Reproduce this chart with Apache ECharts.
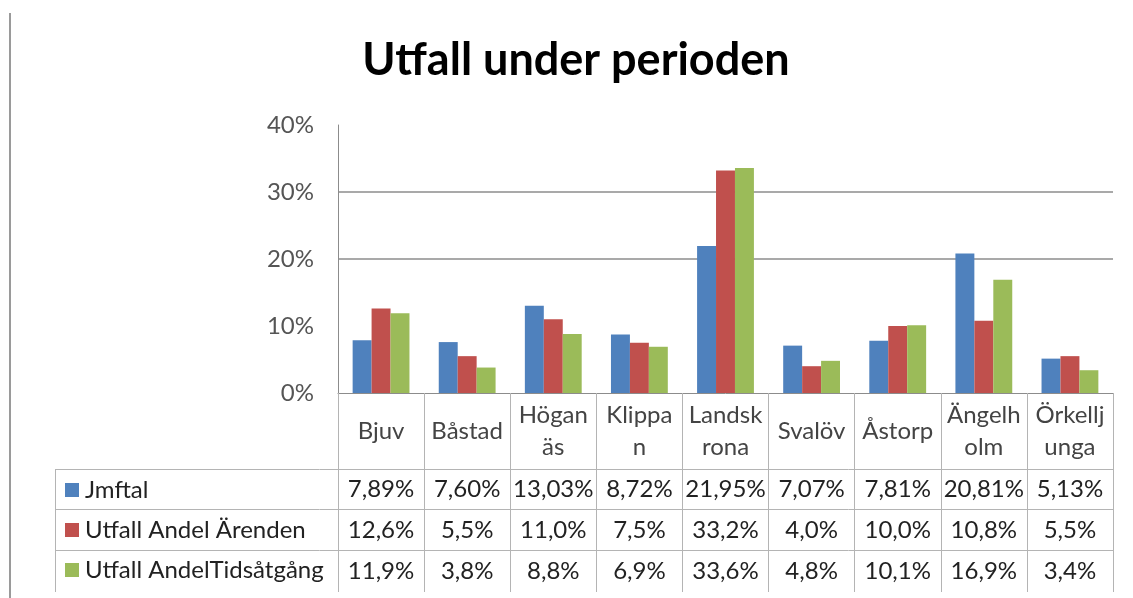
<!DOCTYPE html>
<html lang="sv">
<head>
    <meta charset="UTF-8">
    <title>Utfall under perioden</title>
    <script src="https://cdn.jsdelivr.net/npm/echarts@6/dist/echarts.min.js"></script>
    <style>
        html, body { margin: 0; padding: 0; background: #fff; }
        #main { width: 1133px; height: 598px; }
    </style>
</head>
<body>
<div id="main"></div>
<script>
    // kommuner (radbrytning som i Excel-tabellen)
    var kommuner = ['Bjuv', 'Båstad', 'Högan\näs', 'Klippa\nn', 'Landsk\nrona', 'Svalöv', 'Åstorp', 'Ängelh\nolm', 'Örkellj\nunga'];
    var serieNamn = ['Jmftal', 'Utfall Andel Ärenden', 'Utfall AndelTidsåtgång'];
    // värden i procent
    var jmftal = [7.89, 7.60, 13.03, 8.72, 21.95, 7.07, 7.81, 20.81, 5.13];
    var andelArenden = [12.6, 5.5, 11.0, 7.5, 33.2, 4.0, 10.0, 10.8, 5.5];
    var andelTid = [11.9, 3.8, 8.8, 6.9, 33.6, 4.8, 10.1, 16.9, 3.4];
    var decimaler = [2, 1, 1];
    var yTicks = [0, 10, 20, 30, 40];

    var farger = ['#4F81BD', '#C0504D', '#9BBB59'];
    var font = 'Lato, "Noto Sans", sans-serif';
    var serier = [jmftal, andelArenden, andelTid];

    function fmt(v, d) {
        return v.toFixed(d).replace('.', ',') + '%';
    }

    // tabellens rader = extra x-axlar under diagrammet
    var radMitt = [96, 137, 178];
    var xAxes = [{
        type: 'category',
        data: kommuner,
        axisLine: { lineStyle: { color: '#8c8c8c', width: 1 } },
        axisTick: { show: true, length: 199, alignWithLabel: false, lineStyle: { color: '#b4b4b4' } },
        axisLabel: {
            margin: 38, verticalAlign: 'middle', lineHeight: 32,
            fontFamily: font, fontSize: 24, color: '#444', interval: 0
        }
    }];
    for (var i = 0; i < serier.length; i++) {
        xAxes.push({
            type: 'category',
            position: 'bottom',
            data: serier[i].map(function (v, k) { return fmt(v, decimaler[this]); }, i),
            axisLine: { show: false, onZero: false },
            axisTick: { show: false },
            axisLabel: {
                margin: radMitt[i], verticalAlign: 'middle', interval: 0,
                fontFamily: font, fontSize: 24, color: '#222'
            }
        });
    }

    var myChart = echarts.init(document.getElementById('main'));
    var option = {
        backgroundColor: '#fff',
        animation: false,
        color: farger,
        title: {
            text: 'Utfall under perioden',
            left: 571,
            top: 33,
            textAlign: 'center',
            textStyle: { fontFamily: font, fontWeight: 'bold', fontSize: 45, color: '#000' }
        },
        legend: {
            data: serieNamn,
            orient: 'vertical',
            left: 60,
            top: 465,
            itemGap: 0,
            itemWidth: 14,
            itemHeight: 14,
            icon: 'rect',
            selectedMode: false,
            textStyle: { fontFamily: font, fontSize: 24, color: '#222', lineHeight: 40, padding: [0, 0, 0, 1] }
        },
        grid: { left: 338, right: 20, top: 125, bottom: 205, containLabel: false },
        xAxis: xAxes,
        yAxis: {
            type: 'value',
            min: yTicks[0],
            max: yTicks[yTicks.length - 1],
            interval: 10,
            axisLine: { show: true, lineStyle: { color: '#8c8c8c' } },
            axisTick: { show: false },
            axisLabel: {
                formatter: '{value}%', margin: 24,
                fontFamily: font, fontSize: 24, color: '#555'
            },
            // i originalet syns bara linjerna vid 20% och 30%
            splitLine: {
                show: true,
                lineStyle: { color: ['transparent', 'transparent', '#8c8c8c', '#8c8c8c', 'transparent'], width: 1.5 }
            }
        },
        series: serier.map(function (d, i) {
            return {
                name: serieNamn[i],
                type: 'bar',
                xAxisIndex: 0,
                data: d,
                barGap: '0%',
                barCategoryGap: '34%'
            };
        }),
        graphic: [
            // ramlinje till vänster
            { type: 'line', shape: { x1: 10, y1: 13, x2: 10, y2: 598 }, style: { stroke: '#9a9a9a', lineWidth: 2 } },
            // tabellens linjer
            { type: 'line', shape: { x1: 55, y1: 469.5, x2: 1113, y2: 469.5 }, style: { stroke: '#b4b4b4', lineWidth: 1 } },
            { type: 'line', shape: { x1: 55, y1: 509.5, x2: 1113, y2: 509.5 }, style: { stroke: '#b4b4b4', lineWidth: 1 } },
            { type: 'line', shape: { x1: 55, y1: 550.5, x2: 1113, y2: 550.5 }, style: { stroke: '#b4b4b4', lineWidth: 1 } },
            { type: 'line', shape: { x1: 55.5, y1: 469, x2: 55.5, y2: 592 }, style: { stroke: '#b4b4b4', lineWidth: 1 } }
        ]
    };
    myChart.setOption(option);
</script>
</body>
</html>
